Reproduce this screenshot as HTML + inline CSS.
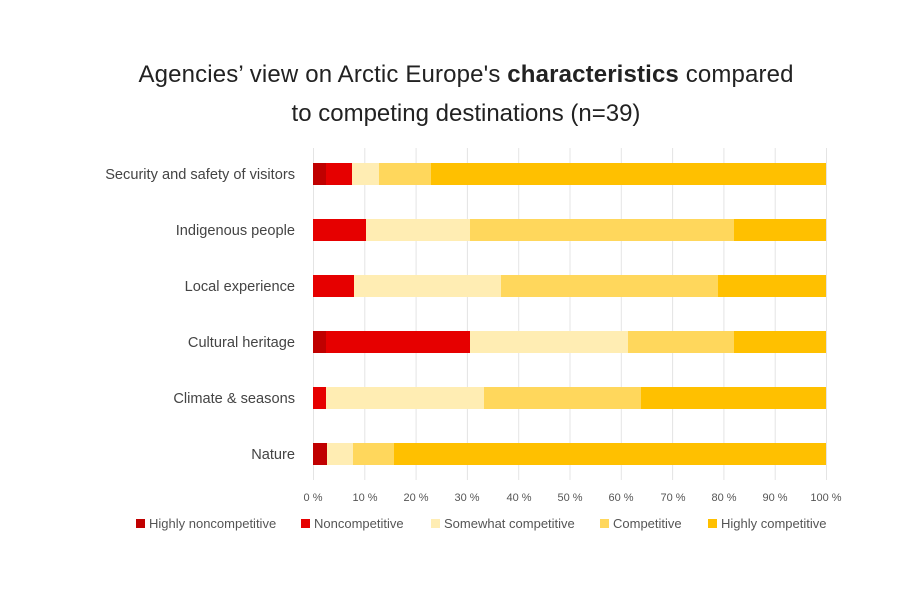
<!DOCTYPE html>
<html><head><meta charset="utf-8"><style>
body{margin:0;background:#fff;}
svg text{font-family:"Liberation Sans",sans-serif;}
</style></head><body>
<svg width="900" height="600" xmlns="http://www.w3.org/2000/svg">
<text x="466" y="82" text-anchor="middle" font-size="24" fill="#222" textLength="655">Agencies’ view on Arctic Europe's <tspan font-weight="bold">characteristics</tspan> compared</text>
<text x="466" y="121" text-anchor="middle" font-size="24" fill="#222">to competing destinations (n=39)</text>
<g stroke="#e4e4e4" stroke-width="1">
<line x1="313.5" y1="148" x2="313.5" y2="480"/><line x1="364.8" y1="148" x2="364.8" y2="480"/><line x1="416.1" y1="148" x2="416.1" y2="480"/><line x1="467.4" y1="148" x2="467.4" y2="480"/><line x1="518.7" y1="148" x2="518.7" y2="480"/><line x1="570" y1="148" x2="570" y2="480"/><line x1="621.3" y1="148" x2="621.3" y2="480"/><line x1="672.6" y1="148" x2="672.6" y2="480"/><line x1="723.9" y1="148" x2="723.9" y2="480"/><line x1="775.2" y1="148" x2="775.2" y2="480"/><line x1="826.5" y1="148" x2="826.5" y2="480"/>
</g>
<g>
<rect x="313" y="163" width="13" height="22" fill="#C00000"/><rect x="326" y="163" width="26" height="22" fill="#E60000"/><rect x="352" y="163" width="27" height="22" fill="#FFEDB3"/><rect x="379" y="163" width="52" height="22" fill="#FFD75C"/><rect x="431" y="163" width="395" height="22" fill="#FFC000"/>
<rect x="313" y="219" width="53" height="22" fill="#E60000"/><rect x="366" y="219" width="104" height="22" fill="#FFEDB3"/><rect x="470" y="219" width="264" height="22" fill="#FFD75C"/><rect x="734" y="219" width="92" height="22" fill="#FFC000"/>
<rect x="313" y="275" width="41" height="22" fill="#E60000"/><rect x="354" y="275" width="147" height="22" fill="#FFEDB3"/><rect x="501" y="275" width="217" height="22" fill="#FFD75C"/><rect x="718" y="275" width="108" height="22" fill="#FFC000"/>
<rect x="313" y="331" width="13" height="22" fill="#C00000"/><rect x="326" y="331" width="144" height="22" fill="#E60000"/><rect x="470" y="331" width="158" height="22" fill="#FFEDB3"/><rect x="628" y="331" width="106" height="22" fill="#FFD75C"/><rect x="734" y="331" width="92" height="22" fill="#FFC000"/>
<rect x="313" y="387" width="13" height="22" fill="#E60000"/><rect x="326" y="387" width="158" height="22" fill="#FFEDB3"/><rect x="484" y="387" width="157" height="22" fill="#FFD75C"/><rect x="641" y="387" width="185" height="22" fill="#FFC000"/>
<rect x="313" y="443" width="14" height="22" fill="#C00000"/><rect x="327" y="443" width="26" height="22" fill="#FFEDB3"/><rect x="353" y="443" width="41" height="22" fill="#FFD75C"/><rect x="394" y="443" width="432" height="22" fill="#FFC000"/>
</g>
<g font-size="14.6" fill="#444" text-anchor="end">
<text x="295" y="179">Security and safety of visitors</text>
<text x="295" y="235">Indigenous people</text>
<text x="295" y="291">Local experience</text>
<text x="295" y="347">Cultural heritage</text>
<text x="295" y="403">Climate &amp; seasons</text>
<text x="295" y="459">Nature</text>
</g>
<g font-size="11" fill="#555" text-anchor="middle">
<text x="313" y="501">0 %</text><text x="365" y="501">10 %</text><text x="416" y="501">20 %</text><text x="467" y="501">30 %</text><text x="519" y="501">40 %</text><text x="570" y="501">50 %</text><text x="621" y="501">60 %</text><text x="673" y="501">70 %</text><text x="724" y="501">80 %</text><text x="775" y="501">90 %</text><text x="826" y="501">100 %</text>
</g>
<g font-size="13" fill="#555">
<rect x="136" y="519" width="9" height="9" fill="#C00000"/><text x="149" y="528">Highly noncompetitive</text>
<rect x="301" y="519" width="9" height="9" fill="#E60000"/><text x="314" y="528">Noncompetitive</text>
<rect x="431" y="519" width="9" height="9" fill="#FFEDB3"/><text x="444" y="528">Somewhat competitive</text>
<rect x="600" y="519" width="9" height="9" fill="#FFD75C"/><text x="613" y="528">Competitive</text>
<rect x="708" y="519" width="9" height="9" fill="#FFC000"/><text x="721" y="528">Highly competitive</text>
</g>
</svg>
</body></html>
